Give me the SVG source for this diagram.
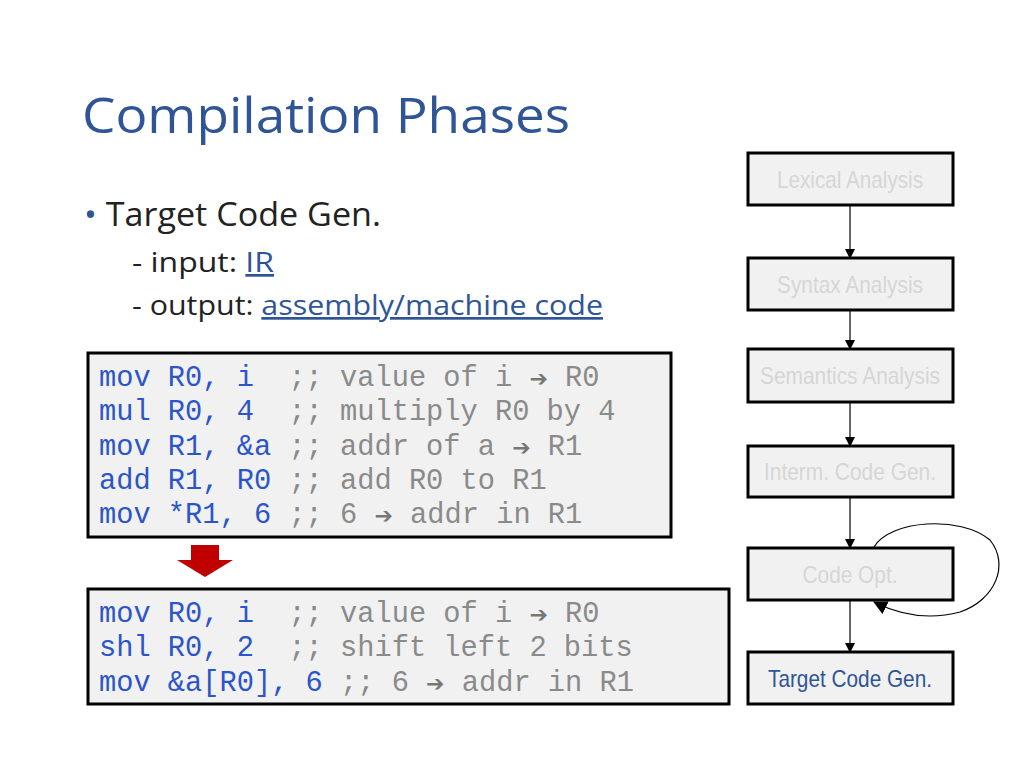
<svg xmlns="http://www.w3.org/2000/svg" width="1024" height="768" viewBox="0 0 1024 768">
<style>
.code{font-family:"Liberation Mono",monospace;font-size:28.7px;fill:#2b55c8}
.cm{fill:#8a8a8a}
.ar{font-family:"DejaVu Sans",sans-serif;font-size:22px;fill:#777}
.box{fill:#f1f1f1;stroke:#000;stroke-width:3}
.nt{font-family:"Liberation Sans",Arial,sans-serif;font-size:24px;fill:#d6d6d6;text-anchor:middle}
.body{font-family:"Open Sans","Liberation Sans",sans-serif;fill:#222}
.conn{stroke:#000;stroke-width:1.2;fill:none}
</style>
<defs><marker id="ah" markerWidth="10" markerHeight="10" refX="9" refY="5" orient="auto" markerUnits="userSpaceOnUse"><path d="M0,0 L10,5 L0,10 z" fill="#000"/></marker>
<marker id="ah2" markerWidth="14" markerHeight="14" refX="13" refY="7" orient="auto" markerUnits="userSpaceOnUse"><path d="M0,0 L14,7 L0,14 z" fill="#000"/></marker></defs>
<rect width="1024" height="768" fill="#fff"/>
<text x="82" y="133" class="body" font-size="50" style="fill:#2f5597" textLength="488" lengthAdjust="spacingAndGlyphs">Compilation Phases</text>
<text x="84" y="226" class="body" font-size="32" textLength="297" lengthAdjust="spacingAndGlyphs"><tspan style="fill:#2f5597">•</tspan> Target Code Gen.</text>
<text x="132" y="272" class="body" font-size="27" textLength="142" lengthAdjust="spacingAndGlyphs">- input: <tspan style="fill:#2f5597" text-decoration="underline">IR</tspan></text>
<text x="132" y="315" class="body" font-size="27" textLength="471" lengthAdjust="spacingAndGlyphs">- output: <tspan style="fill:#2f5597" text-decoration="underline">assembly/machine code</tspan></text>
<g id="code1">
<rect x="88" y="353" width="583" height="184" class="box"/>
<text class="code" xml:space="preserve"><tspan x="99" y="386">mov R0, i  <tspan class="cm">;; value of i <tspan class="ar">➔</tspan> R0</tspan></tspan><tspan x="99" y="420">mul R0, 4  <tspan class="cm">;; multiply R0 by 4</tspan></tspan><tspan x="99" y="455">mov R1, &amp;a <tspan class="cm">;; addr of a <tspan class="ar">➔</tspan> R1</tspan></tspan><tspan x="99" y="489">add R1, R0 <tspan class="cm">;; add R0 to R1</tspan></tspan><tspan x="99" y="523">mov *R1, 6 <tspan class="cm">;; 6 <tspan class="ar">➔</tspan> addr in R1</tspan></tspan></text>
</g>
<path d="M191,545 H219 V560 H233 L205,577 L177,560 H191 Z" fill="#c00000"/>
<g id="code2">
<rect x="88" y="589" width="641" height="115" class="box"/>
<text class="code" xml:space="preserve"><tspan x="99" y="622">mov R0, i  <tspan class="cm">;; value of i <tspan class="ar">➔</tspan> R0</tspan></tspan><tspan x="99" y="656">shl R0, 2  <tspan class="cm">;; shift left 2 bits</tspan></tspan><tspan x="99" y="691">mov &amp;a[R0], 6 <tspan class="cm">;; 6 <tspan class="ar">➔</tspan> addr in R1</tspan></tspan></text>
</g>
<g id="connectors">
<line x1="850" y1="205" x2="850" y2="258" class="conn" marker-end="url(#ah)"/>
<line x1="850" y1="310" x2="850" y2="349" class="conn" marker-end="url(#ah)"/>
<line x1="850" y1="402" x2="850" y2="446" class="conn" marker-end="url(#ah)"/>
<line x1="850" y1="497" x2="850" y2="548" class="conn" marker-end="url(#ah)"/>
<line x1="850" y1="600" x2="850" y2="652" class="conn" marker-end="url(#ah)"/>
<path d="M874,547 C890,520 960,515 990,540 C1010,565 995,600 960,612 C930,620 900,615 874,602" class="conn" marker-end="url(#ah2)"/>
</g>
<g id="n1"><rect x="748" y="153" width="205" height="52" class="box"/><text x="850" y="188" class="nt" textLength="146" lengthAdjust="spacingAndGlyphs">Lexical Analysis</text></g>
<g id="n2"><rect x="748" y="258" width="205" height="52" class="box"/><text x="850" y="293" class="nt" textLength="146" lengthAdjust="spacingAndGlyphs">Syntax Analysis</text></g>
<g id="n3"><rect x="748" y="349" width="205" height="53" class="box"/><text x="850" y="384" class="nt" textLength="180" lengthAdjust="spacingAndGlyphs">Semantics Analysis</text></g>
<g id="n4"><rect x="748" y="446" width="205" height="51" class="box"/><text x="850" y="480" class="nt" textLength="172" lengthAdjust="spacingAndGlyphs">Interm. Code Gen.</text></g>
<g id="n5"><rect x="748" y="548" width="205" height="52" class="box"/><text x="850" y="583" class="nt" textLength="95" lengthAdjust="spacingAndGlyphs">Code Opt.</text></g>
<g id="n6"><rect x="748" y="652" width="205" height="52" class="box"/><text x="850" y="687" class="nt" style="fill:#2f5597" textLength="164" lengthAdjust="spacingAndGlyphs">Target Code Gen.</text></g>
</svg>
